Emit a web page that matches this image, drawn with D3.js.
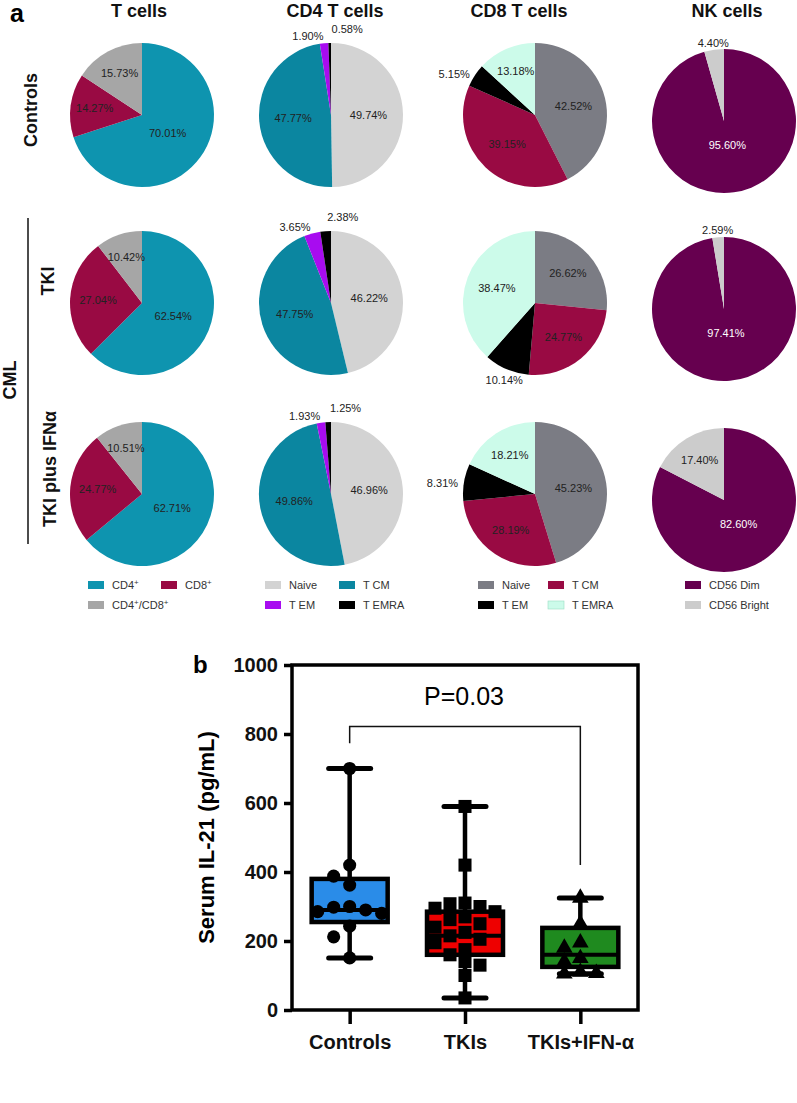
<!DOCTYPE html>
<html lang="en">
<head>
<meta charset="utf-8">
<title>Immune subsets and serum IL-21</title>
<style>
  html, body { margin: 0; padding: 0; background: #fff; }
  svg { display: block; font-family: "Liberation Sans", Arial, sans-serif; }
  .title { font-size: 18px; font-weight: bold; fill: #111; }
  .pie-label { font-size: 11px; fill: #222; }
  .legend text { font-size: 11px; fill: #333; }
  .axis text { font-size: 20px; font-weight: bold; fill: #111; font-family: "Liberation Sans", Arial, sans-serif; }
  .axis line { stroke: #000; stroke-width: 3.5px; }
</style>
</head>
<body>
<svg id="chart" width="797" height="1103"></svg>
<script src="https://cdn.jsdelivr.net/npm/d3@7"></script>
<script>

// ---- panel a: pie data (percent of parent population)
var columns = ["T cells", "CD4 T cells", "CD8 T cells", "NK cells"];
var rows = ["Controls", "TKI", "TKI plus IFNα"];

var tcellSubsets = ["CD4+", "CD8+", "CD4+/CD8+"];
var tcellValues = [[70.01, 14.27, 15.73], [62.54, 27.04, 10.42], [62.71, 24.77, 10.51]];

var cd4Subsets = ["Naive", "T CM", "T EM", "T EMRA"];
var cd4Values = [[49.74, 47.77, 1.90, 0.58], [46.22, 47.75, 3.65, 2.38], [46.96, 49.86, 1.93, 1.25]];

var cd8Subsets = ["Naive", "T CM", "T EM", "T EMRA"];
var cd8Values = [[42.52, 39.15, 5.15, 13.18], [26.62, 24.77, 10.14, 38.47], [45.23, 28.19, 8.31, 18.21]];

var nkSubsets = ["CD56 Dim", "CD56 Bright"];
var nkValues = [[95.60, 4.40], [97.41, 2.59], [82.60, 17.40]];

// ---- panel b: serum IL-21 (pg/mL)
var groups = ["Controls", "TKIs", "TKIs+IFN-α"];
var controlsIL21 = [700, 420, 388, 362, 300, 298, 290, 285, 280, 243, 212, 151];
var tkiIL21 = [590, 420, 310, 308, 300, 295, 285, 270, 262, 250, 240, 225, 215, 205, 195, 175, 160, 140, 130, 100, 35];
var tkiIfnIL21 = [325, 250, 195, 180, 150, 140, 110, 107, 105];
var boxQ1 = [255, 160, 125];
var boxMedian = [290, 215, 160];
var boxQ3 = [380, 285, 238];
var yTicks = [0, 200, 400, 600, 800, 1000];
var pLabel = "P=0.03";

// ---- styling
var panels = [
  { subsets: tcellSubsets, values: tcellValues, colors: ["#0e94af", "#990a43", "#a6a6a6"], legendCols: 2 },
  { subsets: cd4Subsets, values: cd4Values, colors: ["#d3d3d3", "#0b86a0", "#a80cf0", "#000000"], legendCols: 2 },
  { subsets: cd8Subsets, values: cd8Values, colors: ["#7b7c84", "#990a43", "#000000", "#ccfbea"], legendCols: 2 },
  { subsets: nkSubsets, values: nkValues, colors: ["#66004f", "#cccccc"], legendCols: 1 }
];
var labelFill = [["#222", "#222", "#222"], ["#222", "#222", "#222", "#222"], ["#222", "#222", "#222", "#222"], ["#fff", "#222"]];

var colX = [142, 331, 535, 724];
var colDy = [0, 0, 0, 6];
var rowY = [115, 303, 494];
var radius = 72;
var outsideBelow = 0.103;
var legendX = [[88, 161], [265, 339], [478, 548], [685]];
var legendY = [585, 605];

var svg = d3.select("#chart");

// superscript "+" helper
function richText(sel, str) {
  str.split(/(\+)/).forEach(function(p) {
    if (!p) return;
    if (p === "+") {
      sel.append("tspan").attr("font-size", "8px").attr("baseline-shift", "super").text("+");
    } else {
      sel.append("tspan").text(p);
    }
  });
}

svg.append("text").attr("x", 10).attr("y", 22)
  .attr("font-size", 25).attr("font-weight", "bold").text("a");

columns.forEach(function(c, i) {
  svg.append("text").attr("class", "title").attr("text-anchor", "middle")
    .attr("x", colX[i] + [-3, 4, -16, 3][i]).attr("y", 17).text(c);
});

// row labels
var rowLabelX = [37, 54, 56];
rows.forEach(function(r, j) {
  svg.append("text").attr("class", "title").attr("text-anchor", "middle")
    .attr("transform", "translate(" + rowLabelX[j] + "," + [110, 281, 469][j] + ") rotate(-90)")
    .text(r);
});
svg.append("text").attr("class", "title").attr("text-anchor", "middle")
  .attr("transform", "translate(16,380) rotate(-90)").text("CML");
svg.append("line").attr("x1", 28).attr("x2", 28).attr("y1", 218).attr("y2", 544)
  .attr("stroke", "#111").attr("stroke-width", 1.5);

var pie = d3.pie().sort(null).value(function(d) { return d; });
var arc = d3.arc().innerRadius(0).outerRadius(radius);

panels.forEach(function(panel, i) {
  panel.values.forEach(function(vals, j) {
    var total = d3.sum(vals);
    var g = svg.append("g")
      .attr("transform", "translate(" + colX[i] + "," + (rowY[j] + colDy[i]) + ")");
    var arcs = pie(vals);

    g.selectAll("path").data(arcs).enter().append("path")
      .attr("d", arc)
      .attr("fill", function(d, k) { return panel.colors[k]; });

    var outside = arcs.filter(function(d) { return d.value / total < outsideBelow; });

    arcs.forEach(function(d, k) {
      var frac = d.value / total;
      var a = (d.startAngle + d.endAngle) / 2;
      var txt = d3.format(".2f")(d.value) + "%";
      if (frac >= outsideBelow) {
        var dist = radius * (0.72 - 0.4 * frac);
        g.append("text").attr("class", "pie-label")
          .attr("x", Math.sin(a) * dist).attr("y", -Math.cos(a) * dist)
          .attr("dy", "0.35em").attr("text-anchor", "middle")
          .style("fill", labelFill[i][k])
          .text(txt);
      } else {
        var r2 = radius + 6;
        var px = Math.sin(a) * r2, py = -Math.cos(a) * r2;
        var idx = outside.indexOf(d);
        var anchor, by;
        if (Math.cos(a) > 0.8) by = py + 3;
        else if (Math.cos(a) < -0.8) by = py + 9;
        else by = py + 6;
        if (outside.length > 1) {
          if (idx === outside.length - 1) { anchor = "start"; px += 2; by -= 7; }
          else anchor = "end";
        } else if (Math.sin(a) < -0.5) anchor = "end";
        else if (Math.sin(a) > 0.5) anchor = "start";
        else anchor = "middle";
        g.append("text").attr("class", "pie-label")
          .attr("x", px).attr("y", by).attr("text-anchor", anchor)
          .text(txt);
      }
    });
  });

  // legend
  var lg = svg.append("g").attr("class", "legend");
  panel.subsets.forEach(function(s, k) {
    var cx = legendX[i][k % panel.legendCols];
    var cy = legendY[Math.floor(k / panel.legendCols)];
    lg.append("rect").attr("x", cx).attr("y", cy - 4).attr("width", 16).attr("height", 8)
      .attr("fill", panel.colors[k])
      .attr("stroke", panel.colors[k] === "#ccfbea" ? "#9adcc4" : "none")
      .attr("stroke-width", 0.6);
    var t = lg.append("text").attr("x", cx + 24).attr("y", cy + 4);
    richText(t, s);
  });
});

// ---- panel b: box plot
var y = d3.scaleLinear().domain([0, 1000]).range([1010, 665]);
var x = d3.scalePoint().domain(groups).range([292, 638]).padding(0.5);
var series = [controlsIL21, tkiIL21, tkiIfnIL21];
var boxFill = ["#2a8ce8", "#ee0000", "#1f8a1f"];
var symbols = [d3.symbolCircle, d3.symbolSquare, d3.symbolTriangle];
var symSize = [135, 170, 120];
var boxHalf = 38, capHalf = 21;

svg.append("text").attr("x", 193).attr("y", 673)
  .attr("font-size", 24).attr("font-weight", "bold").text("b");

svg.append("text")
  .attr("transform", "translate(214," + ((y(0) + y(1000)) / 2) + ") rotate(-90)")
  .attr("text-anchor", "middle").attr("font-size", 22).attr("font-weight", "bold")
  .text("Serum IL-21 (pg/mL)");

var yAxis = svg.append("g").attr("class", "axis")
  .attr("transform", "translate(292,0)")
  .call(d3.axisLeft(y).tickValues(yTicks).tickSize(8).tickPadding(6).tickFormat(d3.format("d")));
yAxis.select(".domain").remove();

var xAxis = svg.append("g").attr("class", "axis")
  .attr("transform", "translate(0,1010)")
  .call(d3.axisBottom(x).tickSize(14).tickPadding(11));
xAxis.select(".domain").remove();
xAxis.selectAll("text").attr("font-size", 21);

svg.append("rect").attr("x", 292).attr("y", y(1000)).attr("width", 346).attr("height", y(0) - y(1000))
  .attr("fill", "none").attr("stroke", "#000").attr("stroke-width", 3.5);

// bracket
var bx1 = x(groups[0]), bx2 = x(groups[2]);
svg.append("path")
  .attr("d", "M" + bx1 + "," + y(773) + "V" + y(822) + "H" + bx2 + "V" + y(420))
  .attr("fill", "none").attr("stroke", "#111").attr("stroke-width", 1.5);
svg.append("text").attr("x", (bx1 + bx2) / 2 - 1).attr("y", 705).attr("text-anchor", "middle")
  .attr("font-size", 25).text(pLabel);

// simple beeswarm offset so points with close values do not pile up;
// points may overlap a little, as in the original, and stay within the box
function swarm(values, cx, minDist, step, maxOff) {
  var placed = [];
  values.slice().sort(d3.descending).forEach(function(v) {
    var py = y(v), best = null, bestGap = -1;
    for (var k = 0; k < 12; k++) {
      var off = k === 0 ? 0 : (k % 2 ? -1 : 1) * Math.ceil(k / 2) * step;
      if (Math.abs(off) > maxOff) break;
      var px = cx + off;
      var gap = d3.min(placed, function(p) { return Math.hypot(p.x - px, p.y - py); });
      if (gap === undefined) gap = Infinity;
      if (gap >= minDist) { best = px; break; }
      if (gap > bestGap) { bestGap = gap; best = px; }
    }
    placed.push({ v: v, x: best, y: py });
  });
  return placed;
}

var swarmSpec = [[13, 16, 32], [12, 15, 32], [12, 16, 32]];

series.forEach(function(vals, i) {
  var cx = x(groups[i]);
  var g = svg.append("g");
  var lo = d3.min(vals), hi = d3.max(vals);

  g.append("line").attr("x1", cx).attr("x2", cx).attr("y1", y(hi)).attr("y2", y(lo))
    .attr("stroke", "#000").attr("stroke-width", 4.5);
  [lo, hi].forEach(function(v) {
    g.append("line").attr("x1", cx - capHalf).attr("x2", cx + capHalf).attr("y1", y(v)).attr("y2", y(v))
      .attr("stroke", "#000").attr("stroke-width", 5).attr("stroke-linecap", "round");
  });
  g.append("rect").attr("x", cx - boxHalf).attr("y", y(boxQ3[i]))
    .attr("width", boxHalf * 2).attr("height", y(boxQ1[i]) - y(boxQ3[i]))
    .attr("fill", boxFill[i]).attr("stroke", "#000").attr("stroke-width", 4.5);
  g.append("line").attr("x1", cx - boxHalf).attr("x2", cx + boxHalf)
    .attr("y1", y(boxMedian[i])).attr("y2", y(boxMedian[i]))
    .attr("stroke", "#000").attr("stroke-width", 4);

  var s = swarmSpec[i];
  var pts = swarm(vals, cx, s[0], s[1], s[2]);
  g.selectAll("path.pt").data(pts).enter().append("path")
    .attr("class", "pt")
    .attr("transform", function(d) { return "translate(" + d.x + "," + d.y + ")"; })
    .attr("d", d3.symbol().type(symbols[i]).size(symSize[i]))
    .attr("fill", "#000");
});

</script>
</body>
</html>
